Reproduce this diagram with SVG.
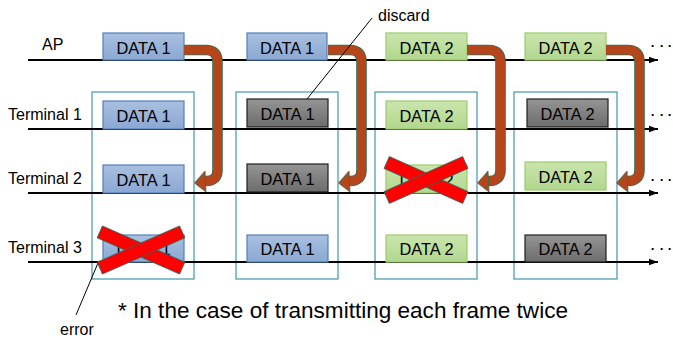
<svg xmlns="http://www.w3.org/2000/svg" xmlns:xlink="http://www.w3.org/1999/xlink" width="673" height="340" viewBox="0 0 673 340">
<style>
text{font-family:"Liberation Sans",Arial,sans-serif;fill:#000}
.lbl{font-size:16px}
.dt{font-size:16.5px;text-anchor:middle}
.blue{fill:url(#gb);stroke:#4f81bd;stroke-width:1.2}
.green{fill:url(#gg);stroke:#9bcb6b;stroke-width:1.2}
.gray{fill:url(#gr);stroke:#1e1e1e;stroke-width:1.2}
.frame{fill:none;stroke:#3f97ab;stroke-width:1.2}
.tl{stroke:#000;stroke-width:2;fill:none}
.lead{stroke:#000;stroke-width:1;fill:none}
.xbar{fill:#ff0000;stroke:#2d6b5e;stroke-width:0.8}
.dots{font-size:19px}
</style>
<defs>
<linearGradient id="gb" x1="0" y1="0" x2="0" y2="1"><stop offset="0" stop-color="#a9c0e0"/><stop offset="1" stop-color="#8aa8d3"/></linearGradient>
<linearGradient id="gg" x1="0" y1="0" x2="0" y2="1"><stop offset="0" stop-color="#cbe5ad"/><stop offset="1" stop-color="#b1d78e"/></linearGradient>
<linearGradient id="gr" x1="0" y1="0" x2="0" y2="1"><stop offset="0" stop-color="#959595"/><stop offset="1" stop-color="#6c6c6c"/></linearGradient>
<marker id="ah" markerWidth="10" markerHeight="8" refX="9" refY="4" orient="auto" markerUnits="userSpaceOnUse"><path d="M0,0.8 L9,4 L0,7.2 Z" fill="#000"/></marker>
<g id="uturn">
<path d="M0,50 H22 Q33.5,50 33.5,62 V170 Q33.5,181 22,181 H20" fill="none" stroke="#2f6e57" stroke-width="10.6"/>
<path d="M0,50 H22 Q33.5,50 33.5,62 V170 Q33.5,181 22,181 H20" fill="none" stroke="#b5461b" stroke-width="9"/>
<polygon points="21,171 22,192 10.5,183" fill="#b5461b" stroke="#2f6e57" stroke-width="0.8"/>
</g>
</defs>
<rect width="673" height="340" fill="#fff"/>

<g id="frames">
<rect class="frame" x="92" y="92" width="102" height="187" stroke="#7bbcc9"/>
<rect class="frame" x="236" y="92" width="102" height="187"/>
<rect class="frame" x="375" y="92" width="102" height="187"/>
<rect class="frame" x="514" y="92" width="103" height="187"/>
</g>

<g id="timelines">
<line class="tl" x1="28" y1="60" x2="658" y2="60" marker-end="url(#ah)"/>
<line class="tl" x1="28" y1="129" x2="658" y2="129" marker-end="url(#ah)"/>
<line class="tl" x1="28" y1="193" x2="658" y2="193" marker-end="url(#ah)"/>
<line class="tl" x1="28" y1="262" x2="658" y2="262" marker-end="url(#ah)"/>
</g>

<g id="labels">
<text class="lbl" x="42" y="50">AP</text>
<text class="lbl" x="8" y="120">Terminal 1</text>
<text class="lbl" x="8" y="184">Terminal 2</text>
<text class="lbl" x="8" y="253">Terminal 3</text>
<text class="dots" x="650 659 667" y="47">...</text>
<text class="dots" x="650 659 667" y="116">...</text>
<text class="dots" x="650 659 667" y="181">...</text>
<text class="dots" x="650 659 667" y="250">...</text>
</g>

<g id="ap-1"><rect class="blue" x="103" y="33" width="81" height="27"/><text class="dt" x="143.5" y="53.5" textLength="54" lengthAdjust="spacingAndGlyphs">DATA 1</text></g>
<g id="ap-2"><rect class="blue" x="247" y="33" width="80" height="27"/><text class="dt" x="287" y="53.5" textLength="54" lengthAdjust="spacingAndGlyphs">DATA 1</text></g>
<g id="ap-3"><rect class="green" x="386" y="33" width="81" height="27"/><text class="dt" x="426.5" y="53.5" textLength="54" lengthAdjust="spacingAndGlyphs">DATA 2</text></g>
<g id="ap-4"><rect class="green" x="525" y="33" width="81" height="27"/><text class="dt" x="565.5" y="53.5" textLength="54" lengthAdjust="spacingAndGlyphs">DATA 2</text></g>

<g id="t1-1"><rect class="blue" x="103" y="101" width="81" height="28"/><text class="dt" x="143.5" y="121.5" textLength="54" lengthAdjust="spacingAndGlyphs">DATA 1</text></g>
<g id="t1-2"><rect class="gray" x="247" y="99" width="81" height="28"/><text class="dt" x="287.5" y="119.5" textLength="54" lengthAdjust="spacingAndGlyphs">DATA 1</text></g>
<g id="t1-3"><rect class="green" x="386" y="101" width="81" height="28"/><text class="dt" x="426.5" y="121.5" textLength="54" lengthAdjust="spacingAndGlyphs">DATA 2</text></g>
<g id="t1-4"><rect class="gray" x="527" y="99" width="81" height="28"/><text class="dt" x="567.5" y="119.5" textLength="54" lengthAdjust="spacingAndGlyphs">DATA 2</text></g>

<g id="t2-1"><rect class="blue" x="103" y="165" width="81" height="28"/><text class="dt" x="143.5" y="185.5" textLength="54" lengthAdjust="spacingAndGlyphs">DATA 1</text></g>
<g id="t2-2"><rect class="gray" x="247" y="164" width="81" height="28"/><text class="dt" x="287.5" y="184.5" textLength="54" lengthAdjust="spacingAndGlyphs">DATA 1</text></g>
<g id="t2-3"><rect class="green" x="386" y="165" width="81" height="28"/><text class="dt" x="426.5" y="185.5" textLength="54" lengthAdjust="spacingAndGlyphs">DATA 2</text></g>
<g id="t2-4"><rect class="green" x="525" y="162" width="81" height="28"/><text class="dt" x="565.5" y="182.5" textLength="54" lengthAdjust="spacingAndGlyphs">DATA 2</text></g>

<g id="t3-1"><rect class="blue" x="103" y="235" width="81" height="27"/><text class="dt" x="143.5" y="255" textLength="54" lengthAdjust="spacingAndGlyphs">DATA 1</text></g>
<g id="t3-2"><rect class="blue" x="247" y="235" width="81" height="27"/><text class="dt" x="287.5" y="255" textLength="54" lengthAdjust="spacingAndGlyphs">DATA 1</text></g>
<g id="t3-3"><rect class="green" x="386" y="235" width="81" height="27"/><text class="dt" x="426.5" y="255" textLength="54" lengthAdjust="spacingAndGlyphs">DATA 2</text></g>
<g id="t3-4"><rect class="gray" x="525" y="235" width="81" height="27"/><text class="dt" x="565.5" y="255" textLength="54" lengthAdjust="spacingAndGlyphs">DATA 2</text></g>

<g id="connectors">
<use xlink:href="#uturn" href="#uturn" transform="translate(184,0)"/>
<use xlink:href="#uturn" href="#uturn" transform="translate(328,0)"/>
<use xlink:href="#uturn" href="#uturn" transform="translate(467,0)"/>
<use xlink:href="#uturn" href="#uturn" transform="translate(606,0)"/>
<line class="lead" x1="372" y1="18" x2="307" y2="99"/>
<line class="lead" x1="98" y1="263" x2="76" y2="315"/>
</g>

<g id="errors">
<rect class="xbar" x="-45" y="-6.5" width="90" height="13" transform="translate(141,250) rotate(23.7)"/>
<rect class="xbar" x="-45" y="-6.5" width="90" height="13" transform="translate(141,250) rotate(-23.7)"/>
<rect class="xbar" x="-43" y="-6.5" width="86" height="13" transform="translate(426,180) rotate(24)"/>
<rect class="xbar" x="-43" y="-6.5" width="86" height="13" transform="translate(426,180) rotate(-24)"/>
</g>

<g id="notes">
<text class="lbl" x="378" y="21">discard</text>
<text class="lbl" x="60" y="335">error</text>
<text x="118" y="318" font-size="22.5" textLength="450" lengthAdjust="spacingAndGlyphs">* In the case of transmitting each frame twice</text>
</g>
</svg>
